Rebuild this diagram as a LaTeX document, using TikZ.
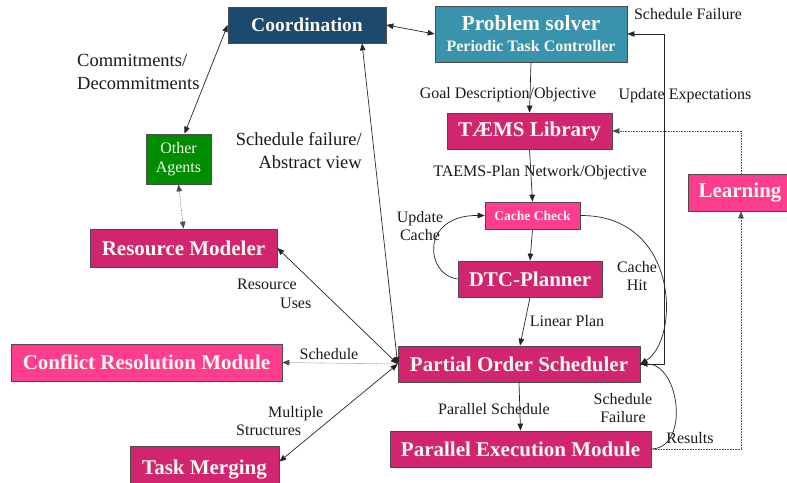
\documentclass[tikz,border=0pt]{standalone}
\usepackage{fontspec}
\setmainfont{Liberation Serif}
\usetikzlibrary{arrows.meta,calc}
\definecolor{coordblue}{RGB}{27,74,110}
\definecolor{psteal}{RGB}{57,147,173}
\definecolor{magdark}{RGB}{209,38,111}
\definecolor{pinklight}{RGB}{255,61,142}
\definecolor{agentgreen}{RGB}{0,140,0}
\definecolor{boxtext}{RGB}{248,248,240}
\begin{document}
\begin{tikzpicture}[x=1pt,y=-1pt,
  box/.style={draw=black!70, line width=0.7pt, inner sep=0pt, text=boxtext, align=center,
    font=\fontsize{21}{24}\selectfont\bfseries},
  dark/.style={box, fill=magdark},
  light/.style={box, fill=pinklight},
  lbl/.style={font=\fontsize{16}{18.5}\selectfont, inner sep=0pt, text=black!90},
  biglbl/.style={font=\fontsize{18.5}{23}\selectfont, inner sep=0pt, text=black!90},
  conn/.style={draw=black!85, line width=0.7pt},
  arr/.style={conn, -{Triangle[length=7pt,width=5.5pt]}},
  darr/.style={conn, {Triangle[length=7pt,width=5.5pt]}-{Triangle[length=7pt,width=5.5pt]}},
  dot/.style={draw=black!70, line width=0.6pt, densely dotted}
]
\useasboundingbox (0,0) rectangle (787,482);

% nodes
\node[box, fill=coordblue, minimum width=158pt, minimum height=36pt, font=\fontsize{19.5}{22}\selectfont\bfseries] (coord) at (307,25) {Coordination};
\node[box, fill=psteal, minimum width=192pt, minimum height=56pt, font=\fontsize{21.5}{24}\selectfont\bfseries] (ps) at (531,34)
  {Problem solver\\[-3pt]{\fontsize{16}{18}\selectfont\bfseries Periodic Task Controller}};
\node[dark, minimum width=165pt, minimum height=36pt] (tlib) at (529.5,131) {TÆMS Library};
\node[light, minimum width=110pt, minimum height=37pt, text width=104pt] (learn) at (743,192.5) {\hspace*{-6pt}Learning};
\node[light, minimum width=95pt, minimum height=27pt, font=\fontsize{13.5}{15}\selectfont\bfseries] (cache) at (532.5,215.5) {Cache Check};
\node[box, fill=agentgreen, minimum width=65pt, minimum height=50pt, font=\fontsize{16}{19}\selectfont] (oa) at (178.5,159) {Other\\Agents};
\node[dark, minimum width=187pt, minimum height=38pt] (rm) at (183.5,248) {Resource Modeler};
\node[dark, minimum width=144pt, minimum height=36pt] (dtc) at (530,279) {DTC-Planner};
\node[dark, minimum width=242pt, minimum height=36pt] (pos) at (519,364) {Partial Order Scheduler};
\node[light, minimum width=271pt, minimum height=37pt] (crm) at (146.5,362.5) {Conflict Resolution Module};
\node[dark, minimum width=261pt, minimum height=36pt] (pem) at (520.5,449) {Parallel Execution Module};
\node[dark, minimum width=149pt, minimum height=50pt, text depth=8pt] (tm) at (204.5,471) {Task Merging};

% labels
\node[biglbl, anchor=west, align=left] (lcommit) at (77,72) {Commitments/\\Decommitments};
\node[biglbl, anchor=east, align=right] (lsfail) at (362,151) {Schedule failure/\\Abstract view};
\node[lbl] (lgoal) at (508,95) {Goal Description/Objective};
\node[lbl] (ltaems) at (540,173) {TAEMS-Plan Network/Objective};
\node[lbl, align=center] (lupd) at (420,226) {Update\\Cache};
\node[lbl, align=center] (lhit) at (637,276) {Cache\\Hit};
\node[lbl] (llin) at (567,321) {Linear Plan};
\node[lbl] (lsf1) at (688,14) {Schedule Failure};
\node[lbl] (lupx) at (685,96) {Update Expectations};
\node[lbl, anchor=north west, align=left] (lres) at (237,279) {Resource\\\hspace*{43pt}Uses};
\node[lbl] (lsch) at (329,354) {Schedule};
\node[lbl, anchor=north west, align=left] (lmul) at (236,406) {\hspace*{32pt}Multiple\\Structures};
\node[lbl] (lpar) at (494,409) {Parallel Schedule};
\node[lbl, align=center] (lsf2) at (623,408) {Schedule\\Failure};
\node[lbl] (lresu) at (690,438) {Results};

% connectors
\draw[darr] (coord.east) -- (ps.west);
\draw[darr] (coord.west) -- ($(oa.north)+(6,0)$);
\draw[dot, {Triangle[length=7pt,width=5.5pt]}-{Triangle[length=7pt,width=5.5pt]}] (oa.south) -- (rm.north);
\draw[darr] ($(coord.south)+(55,0)$) -- (pos.west);
\draw[arr] (ps.south) -- (tlib.north);
\draw[arr] (tlib.south) -- (cache.north);
\draw[arr] (cache.south) -- (dtc.north);
\draw[arr] (dtc.west) .. controls (425,275) and (420,215) .. (cache.west);
\draw[arr] (cache.east) .. controls (680,215) and (680,340) .. (pos.east);
\draw[arr] (dtc.south) -- ($(pos.north)+(1,0)$);
\draw[arr] (pos.east) -- ++(24,0) |- (ps.east);
\draw[dot, -{Triangle[length=7pt,width=5.5pt]}] ($(learn.north)+(-2,0)$) |- (tlib.east);
\draw[dot, -{Triangle[length=7pt,width=5.5pt]}] (pem.east) -| ($(learn.south)+(-2,0)$);
\draw[arr] (pem.east) .. controls (690,448) and (680,364) .. (pos.east);
\draw[arr] (pos.south) -- (pem.north);
\draw[darr] (pos.west) -- (rm.east);
\draw[dot, -{Triangle[length=7pt,width=5.5pt]}] (pos.west) -- (crm.east);
\draw[darr] (pos.west) -- ($(tm.north east)+(0,16)$);
\end{tikzpicture}
\end{document}
